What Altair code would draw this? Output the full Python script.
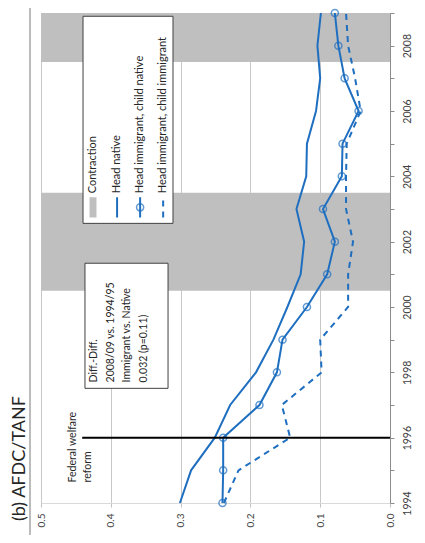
import altair as alt
import pandas as pd

# ---------------- data ----------------
years = list(range(1994, 2010))
head_native = [0.301, 0.285, 0.251, 0.229, 0.192, 0.167, 0.147, 0.128,
               0.123, 0.134, 0.120, 0.119, 0.106, 0.100, 0.104, 0.099]
imm_child_native = [0.240, 0.239, 0.239, 0.187, 0.162, 0.154, 0.119, 0.090,
                    0.079, 0.096, 0.069, 0.068, 0.045, 0.065, 0.074, 0.079]
imm_child_imm = [0.238, 0.217, 0.143, 0.155, 0.098, 0.100, 0.060, 0.060,
                 0.053, 0.063, 0.063, 0.062, 0.042, 0.050, 0.060, 0.063]

series_names = ["Head native", "Head immigrant, child native",
                "Head immigrant, child immigrant"]

contraction_start = [2000.5, 2007.5]
contraction_end = [2003.5, 2009.0]

reform_year = [1996]
reform_text = ["Federal welfare", "reform"]
diff_text = ["Diff.-Diff.", "2008/09 vs. 1994/95", "Immigrant vs. Native",
             "0.032 (p=0.11)"]
title_text = "(b) AFDC/TANF"
legend_labels = ["Contraction"] + series_names

# ---------------- layout constants ----------------
BLUE = "#1f6fc0"
FONT = "Lato"
W, H = 349, 490

xs = alt.Scale(domain=[0, 0.5], reverse=True, nice=False, zero=True)
ys = alt.Scale(domain=[1994, 2009], nice=False, zero=False)

xaxis = alt.Axis(values=[0, 0.1, 0.2, 0.3, 0.4, 0.5], format=".1f", title=None,
                 labelAngle=270, labelAlign="right", labelBaseline="middle",
                 labelPadding=6, tickSize=4, tickColor="#bfbfbf",
                 domainColor="#d9d9d9", grid=True, gridColor="#c8c8c8",
                 gridWidth=1, labelFont=FONT, labelFontSize=10,
                 labelColor="#404040")
yaxis = alt.Axis(values=years, orient="right", title=None, format="d",
                 labelExpr="datum.value % 2 == 0 && datum.value < 2009 ? datum.label : ''",
                 labelAngle=270, labelAlign="center", labelBaseline="top",
                 labelPadding=8, tickSize=4, tickColor="#8c8c8c",
                 domainColor="#8c8c8c", grid=False, labelFont=FONT,
                 labelFontSize=10.5, labelColor="#404040")


def X(f, **kw):
    return alt.X(f, scale=xs, axis=xaxis, **kw)


def Y(f, **kw):
    return alt.Y(f, scale=ys, axis=yaxis, **kw)


rows = []
for name, vals in zip(series_names, [head_native, imm_child_native, imm_child_imm]):
    for yr, v in zip(years, vals):
        rows.append({"series": name, "year": yr, "value": v})
df = pd.DataFrame(rows)

bands_df = pd.DataFrame({"y0": contraction_start, "y1": contraction_end,
                         "x0": [0.5] * 2, "x1": [0.0] * 2})
bands = alt.Chart(bands_df).mark_rect(color="#bfbfbf").encode(
    x=X("x0:Q"), x2="x1:Q", y=Y("y0:Q"), y2="y1:Q")

base = alt.Chart(df)
l_native = base.transform_filter(alt.datum.series == series_names[0]).mark_line(
    color=BLUE, strokeWidth=2).encode(x=X("value:Q"), y=Y("year:Q"), order="year:Q")
l_cn = base.transform_filter(alt.datum.series == series_names[1]).mark_line(
    color=BLUE, strokeWidth=2).encode(x=X("value:Q"), y=Y("year:Q"), order="year:Q")
p_cn = base.transform_filter(alt.datum.series == series_names[1]).mark_point(
    color=BLUE, filled=False, size=50, strokeWidth=1.5, shape="circle").encode(
    x=X("value:Q"), y=Y("year:Q"))
l_ci = base.transform_filter(alt.datum.series == series_names[2]).mark_line(
    color=BLUE, strokeWidth=2, strokeDash=[6, 5]).encode(
    x=X("value:Q"), y=Y("year:Q"), order="year:Q")

reform_df = pd.DataFrame({"year": reform_year, "x0": [0.0], "x1": [0.441]})
reform = alt.Chart(reform_df).mark_rule(color="black", strokeWidth=2).encode(
    x=X("x0:Q"), x2="x1:Q", y=Y("year:Q"))

reform_lbl = alt.Chart(pd.DataFrame({"t": [reform_text], "x": [0.462], "y": [1994.63]})).mark_text(
    angle=270, align="left", baseline="top", font=FONT, fontSize=10.5,
    lineHeight=15, color="#262626").encode(x=X("x:Q"), y=Y("y:Q"), text="t")

# diff-diff box
diff_box = alt.Chart(pd.DataFrame({"x0": [0.437], "x1": [0.318], "y0": [1997.51], "y1": [2001.34]})).mark_rect(
    fill="white", stroke="#404040", strokeWidth=1).encode(
    x=X("x0:Q"), x2="x1:Q", y=Y("y0:Q"), y2="y1:Q")
diff_lbl = alt.Chart(pd.DataFrame({"t": [diff_text], "x": [0.431], "y": [1997.69]})).mark_text(
    angle=270, align="left", baseline="top", font=FONT, fontSize=10.5,
    lineHeight=16.5, color="#262626").encode(x=X("x:Q"), y=Y("y:Q"), text="t")

# legend
leg_box = alt.Chart(pd.DataFrame({"x0": [0.4398], "x1": [0.3109], "y0": [2002.56], "y1": [2008.9]})).mark_rect(
    fill="white", stroke="#404040", strokeWidth=1).encode(
    x=X("x0:Q"), x2="x1:Q", y=Y("y0:Q"), y2="y1:Q")
leg_x = [0.4255, 0.391, 0.358, 0.325]
leg_df = pd.DataFrame({"label": legend_labels, "x": leg_x,
                       "y0": [2002.74] * 4, "y1": [2003.36] * 4,
                       "yc": [2003.05] * 4, "yt": [2003.48] * 4,
                       "xa": [v + 0.005 for v in leg_x], "xb": [v - 0.005 for v in leg_x]})
leg_sw = alt.Chart(leg_df.iloc[[0]]).mark_rect(color="#bfbfbf").encode(
    x=X("xa:Q"), x2="xb:Q", y=Y("y0:Q"), y2="y1:Q")
leg_l1 = alt.Chart(leg_df.iloc[[1, 2]]).mark_rule(color=BLUE, strokeWidth=2).encode(
    x=X("x:Q"), y=Y("y0:Q"), y2="y1:Q")
leg_pt = alt.Chart(leg_df.iloc[[2]]).mark_point(
    color=BLUE, filled=False, size=50, strokeWidth=1.5).encode(x=X("x:Q"), y=Y("yc:Q"))
leg_l2 = alt.Chart(leg_df.iloc[[3]]).mark_rule(color=BLUE, strokeWidth=2, strokeDash=[6, 5]).encode(
    x=X("x:Q"), y=Y("y0:Q"), y2="y1:Q")
leg_txt = alt.Chart(leg_df).mark_text(
    angle=270, align="left", baseline="middle", font=FONT, fontSize=11,
    color="#262626").encode(x=X("x:Q"), y=Y("yt:Q"), text="label")

# title and frame line (decorations)
title = alt.Chart(pd.DataFrame({"t": [title_text]})).mark_text(
    angle=270, align="left", baseline="middle", font=FONT, fontSize=18,
    color="#262626").encode(x=alt.value(-21), y=alt.value(508), text="t")
frame = alt.Chart(pd.DataFrame({"a": [0]})).mark_rule(color="#a6a6a6", strokeWidth=1.5).encode(
    x=alt.value(-11), y=alt.value(-6), y2=alt.value(530))

chart = alt.layer(
    bands, l_native, l_ci, l_cn, p_cn, reform, reform_lbl,
    diff_box, diff_lbl, leg_box, leg_sw, leg_l1, leg_pt, leg_l2, leg_txt,
    title, frame
).properties(
    width=W, height=H,
    autosize=alt.AutoSizeParams(type="none"),
    padding={"left": 33, "top": 5, "right": 25, "bottom": 32},
).configure_view(stroke=None).configure(background="white")

chart.save("out.html", embed_options={"renderer": "svg", "actions": False})
